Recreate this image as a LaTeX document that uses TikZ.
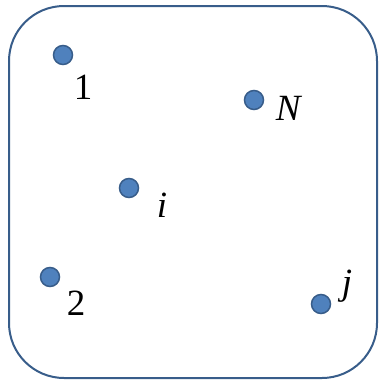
\documentclass[tikz,border=0pt]{standalone}
\usepackage{fontspec}
\setmainfont{Liberation Serif}
\definecolor{dotfill}{HTML}{4F81BD}
\definecolor{dotline}{HTML}{385D8A}
\begin{document}
\begin{tikzpicture}[x=1pt,y=-1pt,
  dot/.style={circle,fill=dotfill,draw=dotline,line width=1.5pt,minimum size=19pt,inner sep=0pt},
  lab/.style={font=\fontsize{37}{40}\selectfont,inner sep=0pt,anchor=center}]
\useasboundingbox (0,0) rectangle (379,380);
\draw[dotline,line width=2pt,rounded corners=55pt] (9,6) rectangle (377,378);
\node[dot] (d1) at (63,55) {};
\node[dot] (dN) at (254,100) {};
\node[dot] (di) at (129,188) {};
\node[dot] (d2) at (50,277) {};
\node[dot] (dj) at (321,304) {};
\node[lab] (l1) at (83,87) {1};
\node[lab] (lN) at (289,108) {\textit{N}};
\node[lab] (li) at (162,205) {\textit{i}};
\node[lab] (l2) at (76,303) {2};
\node[lab] (lj) at (347,286) {\textit{j}};
\end{tikzpicture}
\end{document}
